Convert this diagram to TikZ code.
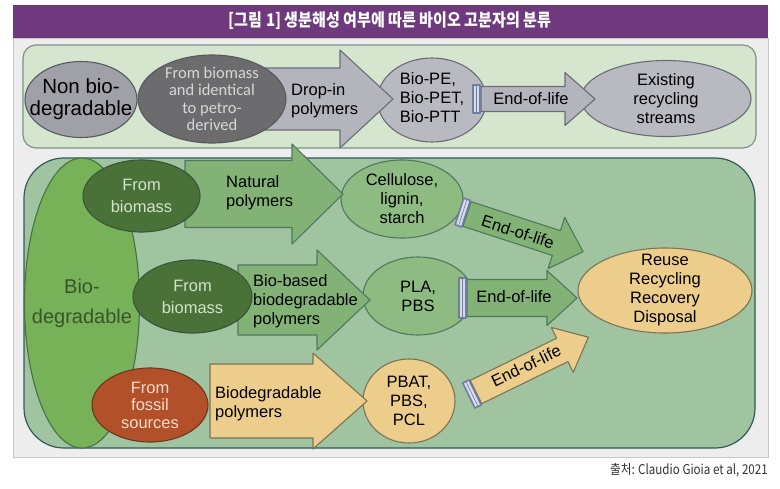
\documentclass[tikz,border=0pt]{standalone}
\usepackage{fontspec}
\setmainfont{Liberation Sans}
\newfontfamily\softfont{Carlito}
\newfontfamily\krfont[FakeStretch=0.86]{Noto Sans CJK KR}
\usepackage{tikz}
\usetikzlibrary{shapes.geometric}

\definecolor{panelgray}{RGB}{237,237,237}
\definecolor{paneledge}{RGB}{200,200,200}
\definecolor{headpurple}{RGB}{111,57,126}
\definecolor{topfill}{RGB}{214,229,206}
\definecolor{topedge}{RGB}{125,145,135}
\definecolor{botfill}{RGB}{160,196,160}
\definecolor{botedge}{RGB}{50,90,88}
\definecolor{nongray}{RGB}{160,161,168}
\definecolor{nonedge}{RGB}{85,90,95}
\definecolor{darkgray}{RGB}{108,108,110}
\definecolor{darktext}{RGB}{215,215,215}
\definecolor{arrgray}{RGB}{180,181,188}
\definecolor{grayedge}{RGB}{105,110,118}
\definecolor{ovalgray}{RGB}{185,186,193}
\definecolor{biogreen}{RGB}{120,178,88}
\definecolor{bioedge}{RGB}{70,115,70}
\definecolor{biotext}{RGB}{55,85,45}
\definecolor{deepgreen}{RGB}{74,114,56}
\definecolor{deepedge}{RGB}{55,85,60}
\definecolor{deeptext}{RGB}{210,228,200}
\definecolor{midgreen}{RGB}{142,187,130}
\definecolor{midedge}{RGB}{80,120,95}
\definecolor{arrgreen}{RGB}{130,178,118}
\definecolor{rust}{RGB}{178,80,42}
\definecolor{rustedge}{RGB}{110,55,35}
\definecolor{rusttext}{RGB}{245,220,200}
\definecolor{tan}{RGB}{236,205,140}
\definecolor{tanedge}{RGB}{125,115,85}
\definecolor{barblue}{RGB}{110,125,160}
\definecolor{barlight}{RGB}{215,220,232}

% block arrow: style, start, angle, length, body half, head half, head length
\newcommand{\blockarrow}[7]{%
  \begin{scope}[shift={(#2)}, rotate=#3]
    \draw[#1] (0,-#5) -- ({#4-#7},-#5) -- ({#4-#7},-#6) -- (#4,0)
      -- ({#4-#7},#6) -- ({#4-#7},#5) -- (0,#5) -- cycle;
  \end{scope}}
% double bar at the tail: start, angle, half height
\newcommand{\tailbar}[3]{%
  \begin{scope}[shift={(#1)}, rotate=#2]
    \filldraw[fill=barlight, draw=barblue, line width=1.6pt] (-8,-#3) rectangle (-1,#3);
    \draw[barblue, line width=0.6pt] (-4.5,-#3) -- (-4.5,#3);
  \end{scope}}

\begin{document}
\begin{tikzpicture}[x=1pt, y=-1pt, line join=round,
  font=\fontsize{16.5}{19}\selectfont]

\tikzstyle{oval}   = [ellipse, draw, line width=1.1pt, inner xsep=-40pt,
                      inner ysep=-30pt, align=center]
\tikzstyle{lbl}    = [inner sep=0pt, align=left, anchor=west]
\tikzstyle{grayarr}  = [fill=arrgray, draw=grayedge, line width=1.1pt]
\tikzstyle{greenarr} = [fill=arrgreen, draw=midedge, line width=1.1pt]
\tikzstyle{tanarr}   = [fill=tan, draw=tanedge, line width=1.1pt]

\useasboundingbox (0,0) rectangle (780,488);
\fill[white] (0,0) rectangle (780,488);

% ── Frame, title and source ───────────────────────────
\filldraw[fill=panelgray, draw=paneledge] (13,38) rectangle (768,457);
\fill[headpurple] (13,5) rectangle (768,38);
\node[text=white, font=\krfont\bfseries\fontsize{17.5}{20}\selectfont] (title) at (390,21)
  {[그림 1] 생분해성 여부에 따른 바이오 고분자의 분류};
\node[anchor=east, inner sep=0pt, text=black!80,
  font=\krfont\fontsize{13.5}{15}\selectfont] (source) at (768,470)
  {출처: Claudio Gioia et al, 2021};

% ── Group boxes ───────────────────────────────────────
\filldraw[fill=topfill, draw=topedge, line width=1.2pt, rounded corners=13pt]
  (23,45) rectangle (756,148);
\filldraw[fill=botfill, draw=botedge, line width=1.2pt, rounded corners=40pt]
  (24,158) rectangle (755,448);

\node[oval, fill=biogreen, draw=bioedge, minimum width=115pt, minimum height=290pt,
  text=biotext, font=\fontsize{20}{30}\selectfont] (biodeg) at (82,303) {Bio-\\degradable};

% ── Target ovals ──────────────────────────────────────
\node[oval, fill=ovalgray, draw=grayedge, minimum width=109pt, minimum height=84pt]
  (biope) at (432,100) {\begin{tabular}{@{}l@{}}Bio-PE,\\Bio-PET,\\Bio-PTT\end{tabular}};
\node[oval, fill=ovalgray, draw=grayedge, minimum width=170pt, minimum height=76pt]
  (exist) at (666,98.5) {Existing\\recycling\\streams};
\node[oval, fill=midgreen, draw=midedge, minimum width=122pt, minimum height=78pt]
  (cellu) at (402,199) {Cellulose,\\lignin,\\starch};
\node[oval, fill=midgreen, draw=midedge, minimum width=110pt, minimum height=78pt]
  (pla) at (418,296) {PLA,\\PBS};
\node[oval, fill=tan, draw=tanedge, minimum width=92pt, minimum height=84pt]
  (pbat) at (409,401) {PBAT,\\PBS,\\PCL};
\node[oval, fill=tan, draw=tanedge, minimum width=174pt, minimum height=85pt]
  (reuse) at (665,290.5) {Reuse\\Recycling\\Recovery\\Disposal};

% ── Block arrows ──────────────────────────────────────
\blockarrow{grayarr}{265,99}{0}{128}{31}{49}{53}
\blockarrow{grayarr}{481,99}{0}{114}{12.5}{26.5}{30}
\tailbar{481,99}{0}{14}
\blockarrow{greenarr}{185,194}{0}{158}{33.5}{50}{51}
\blockarrow{greenarr}{238,300}{0}{132}{35}{50}{53}
\blockarrow{tanarr}{210,401}{0}{157}{37}{48}{54}
\blockarrow{greenarr}{467,214}{-18}{122}{13}{27}{28}
\tailbar{467,214}{-18}{14}
\blockarrow{greenarr}{467,298}{0}{110}{18.5}{27.5}{30}
\tailbar{467,298}{0}{20}
\blockarrow{tanarr}{476,392}{26}{125}{13}{25}{29}
\tailbar{476,392}{26}{14}

\node[lbl] (dropin) at (291,101) {Drop-in\\polymers};
\node[inner sep=0pt] (eoltop) at (531,99) {End-of-life};
\node[lbl] (natural) at (226,193) {Natural\\polymers};
\node[lbl] (biobased) at (253,301) {Bio-based\\biodegradable\\polymers};
\node[lbl] (biodpoly) at (215,404) {Biodegradable\\polymers};
\node[inner sep=0pt, rotate=-18] (eol1) at (518,232) {End-of-life};
\node[inner sep=0pt] (eol2) at (514,297) {End-of-life};
\node[inner sep=0pt, rotate=26] (eol3) at (526,366) {End-of-life};

% ── Source ovals ──────────────────────────────────────
\node[oval, fill=nongray, draw=nonedge, minimum width=112pt, minimum height=76pt,
  font=\fontsize{20.5}{22}\selectfont] (nonbio) at (81,99.5) {Non bio-\\degradable};
\node[oval, fill=darkgray, draw=nonedge, minimum width=148pt, minimum height=88pt,
  text=darktext, font=\softfont\fontsize{16.5}{17.5}\selectfont] (frombio0) at (212,99)
  {From biomass\\and identical\\to petro-\\derived};
\node[oval, fill=deepgreen, draw=deepedge, minimum width=117pt, minimum height=72pt,
  text=deeptext, font=\fontsize{16.5}{22}\selectfont] (frombio1) at (141.5,196) {From\\biomass};
\node[oval, fill=deepgreen, draw=deepedge, minimum width=119pt, minimum height=73pt,
  text=deeptext, font=\fontsize{16.5}{22}\selectfont] (frombio2) at (192.5,296.5) {From\\biomass};
\node[oval, fill=rust, draw=rustedge, minimum width=116pt, minimum height=74pt,
  text=rusttext, font=\fontsize{16.5}{17.5}\selectfont] (fossil) at (150,405) {From\\fossil\\sources};

\end{tikzpicture}
\end{document}
